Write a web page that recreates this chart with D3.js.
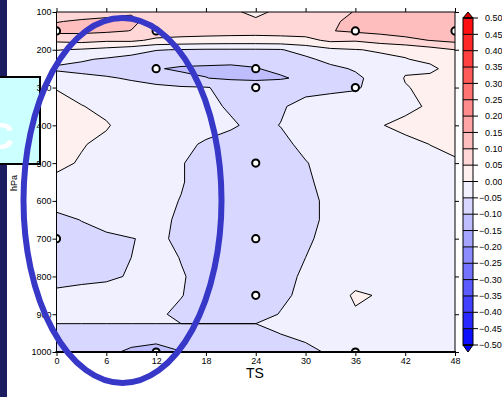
<!DOCTYPE html>
<html>
<head>
<meta charset="utf-8">
<script src="https://cdn.jsdelivr.net/npm/d3@7"></script>
<style>
  html, body { margin: 0; padding: 0; background: #fff; }
  svg { display: block; }
  text { font-family: "Liberation Sans", Arial, Helvetica, sans-serif; }
</style>
</head>
<body>
<svg id="chart" width="502" height="397"></svg>
<script>
// Grid axes: forecast hour (TS) and pressure level (hPa)
const times = [0, 3, 6, 9, 12, 15, 18, 21, 24, 27, 30, 33, 36, 39, 42, 45, 48];
const levels = [100, 125, 150, 175, 200, 225, 250, 275, 300, 350, 400, 450, 500,
                550, 600, 650, 700, 750, 800, 850, 900, 925, 950, 1000];

// Field values, one row per pressure level (top = 100 hPa), one column per hour
const row100  = [0.075, 0.08, 0.085, 0.095, 0.085, 0.075, 0.07, 0.058, 0.04, 0.06, 0.07, 0.085, 0.102, 0.12, 0.125, 0.13, 0.13];
const row125  = [0.098, 0.105, 0.11, 0.11, 0.08, 0.078, 0.075, 0.07, 0.057, 0.07, 0.075, 0.09, 0.115, 0.125, 0.13, 0.13, 0.13];
const row150  = [0.115, 0.113, 0.108, 0.099, 0.08, 0.075, 0.072, 0.07, 0.068, 0.07, 0.075, 0.098, 0.108, 0.115, 0.12, 0.125, 0.13];
const row175  = [0.06, 0.067, 0.058, 0.06, 0.04, 0.035, 0.032, 0.03, 0.03, 0.032, 0.035, 0.06, 0.055, 0.072, 0.088, 0.101, 0.113];
const row200  = [0.002, -0.005, -0.015, -0.03, -0.048, -0.052, -0.055, -0.055, -0.055, -0.053, -0.03, -0.01, -0.002, 0.005, 0.01, 0.03, 0.05];
const row225  = [-0.03, -0.045, -0.055, -0.065, -0.075, -0.08, -0.085, -0.088, -0.088, -0.085, -0.06, -0.035, -0.02, -0.01, -0.002, 0.01, 0.04];
const row250  = [-0.06, -0.063, -0.07, -0.078, -0.097, -0.106, -0.107, -0.108, -0.102, -0.09, -0.075, -0.062, -0.045, -0.02, -0.005, -0.01, 0.02];
const row275  = [-0.018, -0.038, -0.045, -0.055, -0.07, -0.088, -0.099, -0.108, -0.11, -0.105, -0.09, -0.07, -0.06, -0.03, 0.002, 0.01, 0.02];
const row300  = [-0.003, -0.02, -0.03, -0.035, -0.04, -0.045, -0.048, -0.06, -0.07, -0.068, -0.065, -0.062, -0.056, -0.03, -0.002, 0.008, 0.012];
const row350  = [0.02, 0.002, -0.012, -0.02, -0.025, -0.03, -0.04, -0.055, -0.065, -0.055, -0.035, -0.025, -0.02, -0.015, -0.01, 0.005, 0.01];
const row400  = [0.03, 0.02, 0.004, -0.02, -0.025, -0.03, -0.035, -0.045, -0.06, -0.049, -0.03, -0.02, -0.01, -0.002, 0.01, 0.015, 0.02];
const row450  = [0.02, 0.003, -0.01, -0.02, -0.03, -0.04, -0.055, -0.065, -0.07, -0.06, -0.04, -0.03, -0.02, -0.015, -0.01, 0.0005, 0.01];
const row500  = [0.01, -0.004, -0.015, -0.025, -0.035, -0.048, -0.062, -0.07, -0.072, -0.068, -0.052, -0.035, -0.025, -0.02, -0.015, -0.01, -0.005];
const row550  = [-0.01, -0.015, -0.02, -0.025, -0.035, -0.048, -0.062, -0.07, -0.075, -0.07, -0.055, -0.04, -0.03, -0.025, -0.02, -0.015, -0.01];
const row600  = [-0.035, -0.03, -0.025, -0.03, -0.042, -0.051, -0.062, -0.07, -0.075, -0.072, -0.06, -0.042, -0.03, -0.025, -0.02, -0.02, -0.015];
const row650  = [-0.06, -0.049, -0.035, -0.03, -0.045, -0.053, -0.065, -0.072, -0.078, -0.075, -0.06, -0.042, -0.03, -0.025, -0.022, -0.02, -0.018];
const row700  = [-0.065, -0.062, -0.058, -0.051, -0.045, -0.055, -0.065, -0.072, -0.078, -0.072, -0.055, -0.04, -0.03, -0.025, -0.022, -0.02, -0.018];
const row750  = [-0.065, -0.063, -0.058, -0.05, -0.04, -0.051, -0.062, -0.07, -0.075, -0.065, -0.05, -0.035, -0.025, -0.02, -0.02, -0.018, -0.016];
const row800  = [-0.058, -0.056, -0.054, -0.048, -0.035, -0.048, -0.058, -0.068, -0.072, -0.06, -0.045, -0.025, -0.012, -0.008, -0.012, -0.015, -0.015];
const row850  = [-0.045, -0.042, -0.04, -0.038, -0.04, -0.049, -0.06, -0.065, -0.068, -0.058, -0.04, -0.015, 0.004, -0.002, -0.008, -0.012, -0.013];
const row900  = [-0.04, -0.04, -0.04, -0.042, -0.046, -0.055, -0.062, -0.066, -0.066, -0.048, -0.035, -0.02, -0.003, -0.006, -0.01, -0.012, -0.012];
const row925  = [-0.05, -0.05, -0.05, -0.05, -0.05, -0.05, -0.05, -0.05, -0.05, -0.045, -0.038, -0.025, -0.012, -0.01, -0.011, -0.012, -0.012];
const row950  = [-0.06, -0.062, -0.065, -0.075, -0.08, -0.078, -0.072, -0.068, -0.062, -0.049, -0.04, -0.03, -0.02, -0.015, -0.012, -0.012, -0.012];
const row1000 = [-0.075, -0.08, -0.09, -0.108, -0.115, -0.101, -0.09, -0.08, -0.075, -0.07, -0.06, -0.045, -0.035, -0.03, -0.028, -0.025, -0.025];

// Contour / colour-bar levels
const contourLevels = [-0.5, -0.45, -0.4, -0.35, -0.3, -0.25, -0.2, -0.15, -0.1, -0.05,
                       0, 0.05, 0.1, 0.15, 0.2, 0.25, 0.3, 0.35, 0.4, 0.45, 0.5];
const timeTicks = [0, 6, 12, 18, 24, 30, 36, 42, 48];
const pressureTicks = [100, 200, 300, 400, 500, 600, 700, 800, 900, 1000];

// Sounding markers [hour, hPa]
const stationHours  = [0, 12, 36, 48, 12, 24, 24, 36, 24, 0, 24, 24, 12, 36];
const stationLevels = [150, 150, 150, 150, 250, 250, 300, 300, 500, 700, 700, 850, 1000, 1000];

const field = [row100, row125, row150, row175, row200, row225, row250, row275, row300,
               row350, row400, row450, row500, row550, row600, row650, row700, row750,
               row800, row850, row900, row925, row950, row1000];

const svg = d3.select("#chart");

// Navy page strip and cyan panel at the left edge
svg.append("rect").attr("x", 0).attr("y", 0).attr("width", 7).attr("height", 397).attr("fill", "#1c1c60");
svg.append("rect").attr("x", -5).attr("y", 77).attr("width", 45).attr("height", 87)
  .attr("fill", "#ccffff").attr("stroke", "#000").attr("stroke-width", 2);
svg.append("text").attr("x", 0).attr("y", 149).attr("text-anchor", "middle")
  .attr("font-size", 37).attr("font-weight", "bold").attr("fill", "#fff").text("C");

const x = d3.scaleLinear().domain([0, 48]).range([56.5, 455]);
const y = d3.scaleLinear().domain([100, 1000]).range([12, 352]);

// Band colour: white-to-red above zero, white-to-blue below zero
function bandColor(lo) {
  const k = lo >= 0 ? Math.round(lo / 0.05) + 1 : Math.round(-lo / 0.05);
  const s = Math.min(255, 15 + 25 * (k - 1));
  return lo >= 0 ? d3.rgb(255, 255 - s, 255 - s) : d3.rgb(255 - s, 255 - s, 255);
}

// Grid index -> data coordinate (values sit at index + 0.5)
function along(arr, c) {
  const r = c - 0.5;
  const i = Math.max(0, Math.min(arr.length - 2, Math.floor(r)));
  return arr[i] + (r - i) * (arr[i + 1] - arr[i]);
}
const gridPath = d3.geoPath(d3.geoTransform({
  point(cx, cy) { this.stream.point(x(along(times, cx)), y(along(levels, cy))); }
}));

svg.append("clipPath").attr("id", "plotClip").append("rect")
  .attr("x", x(0)).attr("y", y(100)).attr("width", x(48) - x(0)).attr("height", y(1000) - y(100));

const plot = svg.append("g").attr("clip-path", "url(#plotClip)");
plot.append("rect").attr("x", x(0)).attr("y", y(100)).attr("width", x(48) - x(0))
  .attr("height", y(1000) - y(100)).attr("fill", bandColor(-0.55));

const bands = d3.contours().size([times.length, levels.length]).thresholds(contourLevels)(field.flat());
plot.selectAll("path.band").data(bands).join("path").attr("class", "band")
  .attr("d", gridPath).attr("fill", d => bandColor(d.value)).attr("stroke", "none");
plot.selectAll("path.iso").data(bands).join("path").attr("class", "iso")
  .attr("d", gridPath).attr("fill", "none").attr("stroke", "#000").attr("stroke-width", 1);

// Station markers
plot.selectAll("circle.stn").data(stationHours).join("circle").attr("class", "stn")
  .attr("cx", (d) => x(d)).attr("cy", (d, i) => y(stationLevels[i])).attr("r", 3.6)
  .attr("fill", "#fff").attr("stroke", "#000").attr("stroke-width", 2);

// Frame and axes
svg.append("rect").attr("x", x(0)).attr("y", y(100)).attr("width", x(48) - x(0))
  .attr("height", y(1000) - y(100)).attr("fill", "none").attr("stroke", "#000").attr("stroke-width", 1);
svg.append("line").attr("x1", x(0) - 1).attr("x2", x(48) + 1).attr("y1", y(1000)).attr("y2", y(1000))
  .attr("stroke", "#000").attr("stroke-width", 2);

const axFont = g => g.selectAll("text").attr("font-size", 9).attr("fill", "#000")
  .attr("font-family", "'Liberation Sans', Arial, sans-serif");
const axClean = g => { g.select(".domain").remove(); g.selectAll("line").attr("stroke", "#000"); };

svg.append("g").attr("transform", `translate(0,${y(1000)})`)
  .call(d3.axisBottom(x).tickValues(timeTicks).tickSize(4).tickPadding(2).tickFormat(d3.format("d")))
  .call(axClean).call(axFont);
svg.append("g").attr("transform", `translate(0,${y(100)})`)
  .call(d3.axisTop(x).tickValues(timeTicks).tickSize(4).tickFormat(""))
  .call(axClean);
svg.append("g").attr("transform", `translate(${x(0)},0)`)
  .call(d3.axisLeft(y).tickValues(pressureTicks).tickSize(4).tickPadding(1).tickFormat(d3.format("d")))
  .call(axClean).call(axFont);
svg.append("g").attr("transform", `translate(${x(48)},0)`)
  .call(d3.axisRight(y).tickValues(pressureTicks).tickSize(4).tickFormat(""))
  .call(axClean);

svg.append("text").attr("x", 255).attr("y", 378).attr("text-anchor", "middle")
  .attr("font-size", 14).text("TS");
svg.append("text").attr("transform", "translate(17,183) rotate(-90)").attr("text-anchor", "middle")
  .attr("font-size", 9).text("hPa");

// Colour bar
const cb = d3.scaleLinear().domain([-0.5, 0.5]).range([345, 18]);
const cbx = 463, cbw = 10;
const cbg = svg.append("g");
cbg.selectAll("rect").data(contourLevels.slice(0, -1)).join("rect")
  .attr("x", cbx).attr("width", cbw).attr("y", d => cb(d + 0.05)).attr("height", d => cb(d) - cb(d + 0.05))
  .attr("fill", d => bandColor(d));
cbg.append("path").attr("d", `M${cbx},${cb(0.5)}L${cbx + cbw / 2},${cb(0.5) - 6}L${cbx + cbw},${cb(0.5)}Z`)
  .attr("fill", "#e00000").attr("stroke", "#000").attr("stroke-width", 1);
cbg.append("path").attr("d", `M${cbx},${cb(-0.5)}L${cbx + cbw / 2},${cb(-0.5) + 7}L${cbx + cbw},${cb(-0.5)}Z`)
  .attr("fill", "#0000ff").attr("stroke", "#000").attr("stroke-width", 1);
cbg.append("rect").attr("x", cbx).attr("y", cb(0.5)).attr("width", cbw).attr("height", cb(-0.5) - cb(0.5))
  .attr("fill", "none").attr("stroke", "#000").attr("stroke-width", 1);
cbg.selectAll("line.cbt").data(contourLevels).join("line").attr("class", "cbt")
  .attr("x1", cbx).attr("x2", cbx + cbw + 5).attr("y1", d => cb(d)).attr("y2", d => cb(d))
  .attr("stroke", "#000").attr("stroke-width", 1);
const fmt = d3.format(".2f");
cbg.selectAll("text").data(contourLevels).join("text")
  .attr("x", d => d < 0 ? 479 : 485).attr("y", d => cb(d)).attr("dy", "0.35em")
  .attr("font-size", 9).text(d => fmt(d));

// Highlight ellipse
svg.append("ellipse").attr("cx", 122.5).attr("cy", 200.5).attr("rx", 99).attr("ry", 182.5)
  .attr("fill", "none").attr("stroke", "#3737c8").attr("stroke-width", 6);
</script>
</body>
</html>
